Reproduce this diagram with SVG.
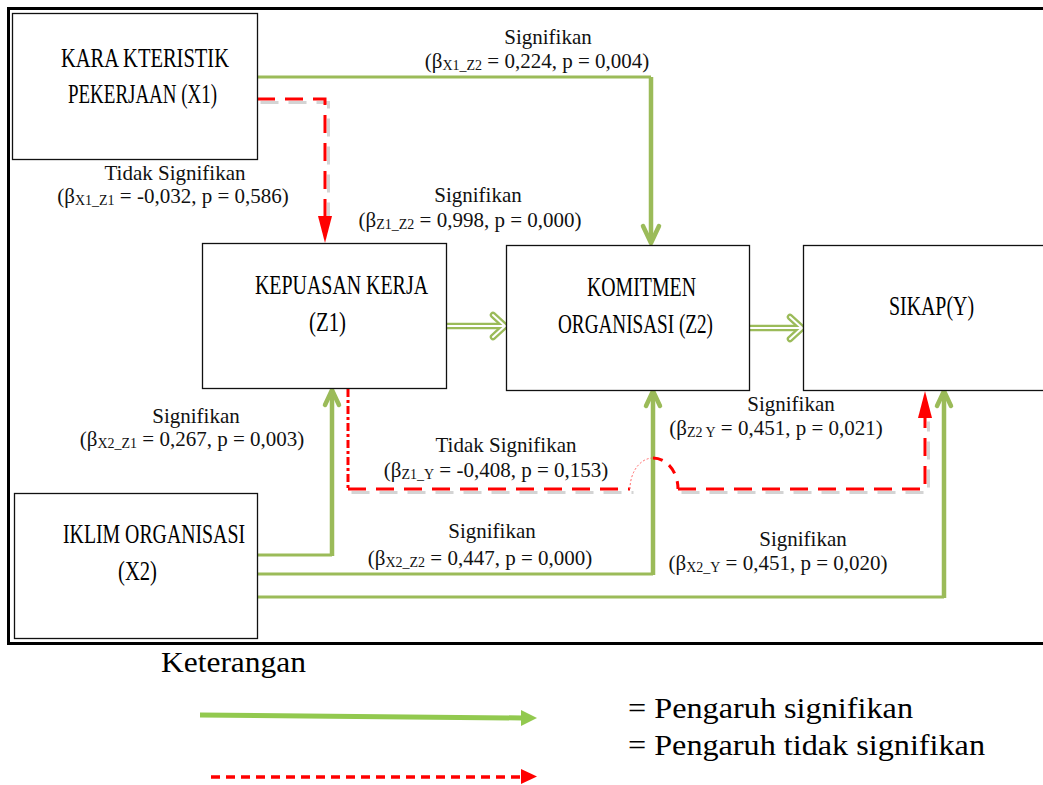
<svg xmlns="http://www.w3.org/2000/svg" width="1043" height="785" viewBox="0 0 1043 785">
<style>
.box{fill:#fff;stroke:#111;stroke-width:1.3}
.gh{fill:none;stroke:#9BBB59;stroke-width:3}
.gv{fill:none;stroke:#9BBB59;stroke-width:4.5}
.chev{fill:none;stroke:#9BBB59;stroke-width:4.5;stroke-linejoin:round;stroke-linecap:round}
.rd{fill:none;stroke:#FF0000;stroke-width:3;stroke-dasharray:18 10}
.rdd{fill:none;stroke:#FF0000;stroke-width:3;stroke-dasharray:8 3 3 3}
.shadow{fill:none;stroke:#d4d4d4;stroke-width:3;stroke-dasharray:18 10}
.dbl-o{fill:none;stroke:#9BBB59;stroke-width:6.5;stroke-linejoin:round;stroke-linecap:round}
.dbl-i{fill:none;stroke:#fff;stroke-width:2;stroke-linejoin:round;stroke-linecap:round}
</style>
<rect x="0" y="0" width="1043" height="785" fill="#fff"/>
<rect x="8.5" y="8.5" width="1060" height="635" fill="none" stroke="#000" stroke-width="3"/>

<g id="connectors">
  <path class="gh" d="M257,77 H651"/>
  <path class="gv" d="M651,77 V241"/>
  <path class="chev" d="M643,226 L651,243 L659,226"/>
  <path class="shadow" d="M259,101 H327 V222" transform="translate(1.5,1.5)"/>
  <path class="rd" d="M257,99 H325 V220"/>
  <path d="M318,216 L325,243 L332,216 z" fill="#FF0000"/>
  <path class="dbl-o" d="M446,326 H503"/>
  <path class="dbl-o" d="M493,315 L505,326 L493,337"/>
  <path class="dbl-i" d="M446,326 H503"/>
  <path class="dbl-i" d="M493,315 L505,326 L493,337"/>
  <path class="dbl-o" d="M749,328 H800"/>
  <path class="dbl-o" d="M790,317 L802,328 L790,339"/>
  <path class="dbl-i" d="M749,328 H800"/>
  <path class="dbl-i" d="M790,317 L802,328 L790,339"/>
  <path class="gh" d="M257,555 H332"/>
  <path class="gv" d="M332,556 V392"/>
  <path class="chev" d="M325,405 L332,390 L339,405"/>
  <path class="gh" d="M257,574 H653"/>
  <path class="gv" d="M653,575 V393"/>
  <path class="chev" d="M646,406 L653,391 L660,406"/>
  <path class="gh" d="M257,597 H944"/>
  <path class="gv" d="M944,598 V393"/>
  <path class="chev" d="M937,406 L944,391 L951,406"/>
  <path class="shadow" d="M350,491 H632 M680,491 H927 V420" transform="translate(1.5,1.5)"/>
  <path class="rdd" d="M348,389 V489"/>
  <path class="rd" d="M348,489 H630"/>
  <path d="M630,489 A23,31 0 0 1 653,458" fill="none" stroke="#FF6666" stroke-width="1" stroke-dasharray="2 2"/>
  <path d="M653,458 A25,31 0 0 1 678,489" fill="none" stroke="#FF0000" stroke-width="3" stroke-dasharray="10 8"/>
  <path class="rd" d="M678,489 H925 V418"/>
  <path d="M918,418 L925,391 L932,418 z" fill="#FF0000"/>
</g>

<g id="node-x1" font-family="Liberation Serif, serif" font-size="28">
  <rect class="box" x="12.5" y="13.5" width="245" height="146"/>
  <text x="61" y="67" textLength="168" lengthAdjust="spacingAndGlyphs">KARA KTERISTIK</text>
  <text x="68" y="103" textLength="149" lengthAdjust="spacingAndGlyphs">PEKERJAAN (X1)</text>
</g>
<g id="node-z1" font-family="Liberation Serif, serif" font-size="28">
  <rect class="box" x="202.5" y="243.5" width="244" height="145"/>
  <text x="255" y="294" textLength="173" lengthAdjust="spacingAndGlyphs">KEPUASAN KERJA</text>
  <text x="309" y="331" textLength="37" lengthAdjust="spacingAndGlyphs">(Z1)</text>
</g>
<g id="node-z2" font-family="Liberation Serif, serif" font-size="28">
  <rect class="box" x="506.5" y="245.5" width="243" height="145"/>
  <text x="587" y="296" textLength="109" lengthAdjust="spacingAndGlyphs">KOMITMEN</text>
  <text x="558" y="333" textLength="155" lengthAdjust="spacingAndGlyphs">ORGANISASI (Z2)</text>
</g>
<g id="node-y" font-family="Liberation Serif, serif" font-size="28">
  <rect class="box" x="803.5" y="245.5" width="260" height="145"/>
  <text x="889" y="315" textLength="85" lengthAdjust="spacingAndGlyphs">SIKAP(Y)</text>
</g>
<g id="node-x2" font-family="Liberation Serif, serif" font-size="28">
  <rect class="box" x="14.5" y="493.5" width="243" height="145"/>
  <text x="63" y="543" textLength="182" lengthAdjust="spacingAndGlyphs">IKLIM ORGANISASI</text>
  <text x="118" y="580" textLength="39" lengthAdjust="spacingAndGlyphs">(X2)</text>
</g>

<g id="labels" text-anchor="middle" font-family="Liberation Serif, serif" font-size="21" fill="#111">
  <text x="548" y="44">Signifikan</text>
  <text x="537" y="68">(β<tspan font-size="14" dy="2">X1_Z2</tspan><tspan dy="-2"> = 0,224, p = 0,004)</tspan></text>
  <text x="175" y="180">Tidak Signifikan</text>
  <text x="173" y="203">(β<tspan font-size="14" dy="2">X1_Z1</tspan><tspan dy="-2"> = -0,032, p = 0,586)</tspan></text>
  <text x="478" y="202">Signifikan</text>
  <text x="470" y="227">(β<tspan font-size="14" dy="2">Z1_Z2</tspan><tspan dy="-2"> = 0,998, p = 0,000)</tspan></text>
  <text x="196" y="423">Signifikan</text>
  <text x="192" y="446">(β<tspan font-size="14" dy="2">X2_Z1</tspan><tspan dy="-2"> = 0,267, p = 0,003)</tspan></text>
  <text x="506" y="452">Tidak Signifikan</text>
  <text x="496" y="477">(β<tspan font-size="14" dy="2">Z1_Y</tspan><tspan dy="-2"> = -0,408, p = 0,153)</tspan></text>
  <text x="791" y="411">Signifikan</text>
  <text x="776" y="435">(β<tspan font-size="14" dy="2">Z2 Y</tspan><tspan dy="-2"> = 0,451, p = 0,021)</tspan></text>
  <text x="492" y="538">Signifikan</text>
  <text x="480" y="565">(β<tspan font-size="14" dy="2">X2_Z2</tspan><tspan dy="-2"> = 0,447, p = 0,000)</tspan></text>
  <text x="803" y="546">Signifikan</text>
  <text x="778" y="570">(β<tspan font-size="14" dy="2">X2_Y</tspan><tspan dy="-2"> = 0,451, p = 0,020)</tspan></text>
</g>

<g id="legend" font-family="Liberation Serif, serif" font-size="29">
  <text x="161" y="672" textLength="145" lengthAdjust="spacingAndGlyphs">Keterangan</text>
  <path d="M200,715 L523,718" stroke="#92C94F" stroke-width="5" fill="none"/>
  <path d="M521,710 L537,718 L521,726 z" fill="#92C94F"/>
  <path d="M211,777 H523" stroke="#FF0000" stroke-width="3.5" stroke-dasharray="9 6" fill="none"/>
  <path d="M521,769 L537,776.5 L521,784 z" fill="#FF0000"/>
  <text x="628" y="718" textLength="285" lengthAdjust="spacingAndGlyphs">= Pengaruh signifikan</text>
  <text x="628" y="755" textLength="357" lengthAdjust="spacingAndGlyphs">= Pengaruh tidak signifikan</text>
</g>
</svg>
